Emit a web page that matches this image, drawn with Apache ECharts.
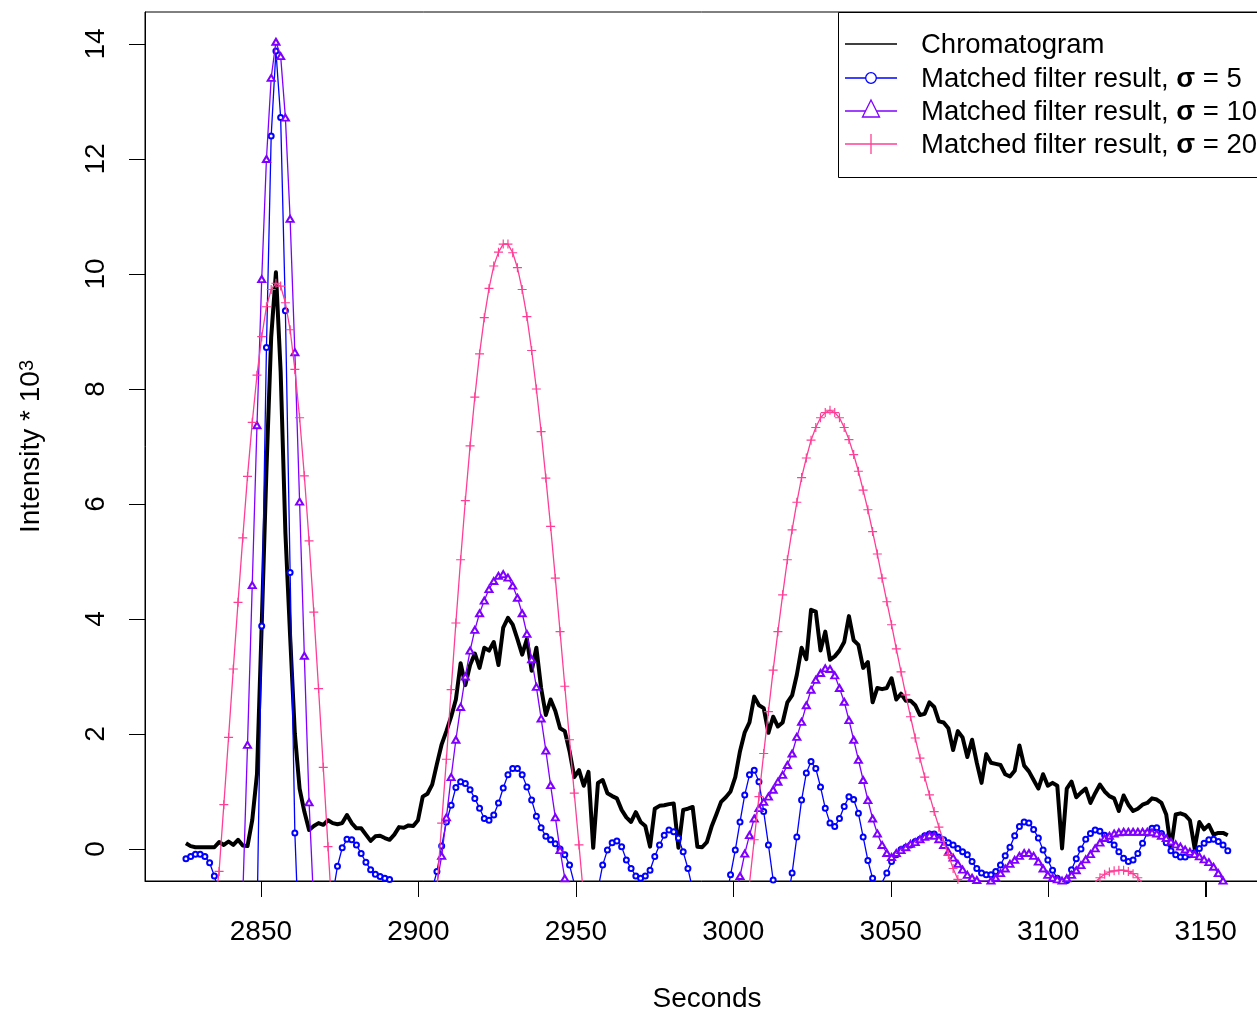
<!DOCTYPE html>
<html>
<head>
<meta charset="utf-8">
<title>Chromatogram and matched filter results</title>
<script src="https://cdn.jsdelivr.net/npm/echarts@6/dist/echarts.min.js"></script>
<style>
  html, body { margin: 0; padding: 0; background: #ffffff; }
  #chart { width: 1257px; height: 1009px; }
</style>
</head>
<body>
<div id="chart"></div>
<script>
// Scan times: first scan (s) and the spacing between scans (s)
const scanStart = 2826.2;
const scanInterval = 1.5037;

// Raw chromatogram intensity (* 10^3), one value per scan
const chromatogram = [
  0.10, 0.05, 0.03, 0.03, 0.03, 0.03, 0.03, 0.12, 0.07, 0.13,
  0.07, 0.16, 0.06, 0.05, 0.5, 1.3, 3.9, 6.6, 8.9, 10.03,
  8.3, 5.5, 3.7, 2.0, 1.05, 0.65, 0.33, 0.4, 0.45, 0.42,
  0.5, 0.45, 0.43, 0.45, 0.59, 0.45, 0.36, 0.36, 0.25, 0.14,
  0.22, 0.23, 0.19, 0.16, 0.25, 0.38, 0.37, 0.41, 0.4, 0.5,
  0.91, 0.96, 1.12, 1.48, 1.82, 2.05, 2.3, 2.6, 3.23, 2.85,
  3.2, 3.4, 3.15, 3.5, 3.45, 3.6, 3.2, 3.85, 4.02, 3.9,
  3.65, 3.38, 3.65, 3.1, 3.5, 2.8, 2.33, 2.6, 2.4, 2.1,
  2.05, 1.7, 1.25, 1.37, 1.1, 1.34, 0.02, 1.15, 1.2, 0.97,
  0.92, 0.88, 0.68, 0.55, 0.47, 0.64, 0.47, 0.4, 0.04, 0.7,
  0.75, 0.76, 0.78, 0.79, 0.02, 0.68, 0.7, 0.73, 0.04, 0.03,
  0.12, 0.39, 0.6, 0.82, 0.9, 1.0, 1.25, 1.7, 2.03, 2.2,
  2.65, 2.5, 2.45, 2.02, 2.3, 2.13, 2.2, 2.55, 2.67, 3.03,
  3.5, 3.3, 4.16, 4.13, 3.45, 3.78, 3.29, 3.35, 3.45, 3.6,
  4.05, 3.63, 3.55, 3.15, 3.25, 2.55, 2.8, 2.78, 2.8, 2.97,
  2.6, 2.7, 2.58, 2.58, 2.5, 2.33, 2.35, 2.55, 2.47, 2.22,
  2.2, 2.1, 1.72, 2.05, 1.94, 1.6, 1.9, 1.5, 1.15, 1.65,
  1.5, 1.48, 1.46, 1.3, 1.26, 1.36, 1.8, 1.45, 1.35, 1.2,
  1.05, 1.3, 1.1, 1.15, 1.1, 0.01, 1.05, 1.17, 0.9, 0.98,
  1.05, 0.8, 0.97, 1.12, 1.0, 0.92, 0.88, 0.66, 0.93, 0.77,
  0.66, 0.7, 0.77, 0.8, 0.88, 0.86, 0.8, 0.6, 0.01, 0.6,
  0.62, 0.59, 0.5, 0.01, 0.47, 0.34, 0.42, 0.25, 0.28, 0.28, 0.24
];

// Matched filter output, Gaussian kernel sigma = 5
const filterSigma5 = [
  -0.17, -0.13, -0.09, -0.09, -0.13, -0.24, -0.47, -0.75, -1.5, -2.5,
  -3.3, -3.8, -3.8, -3.3, -2.4, -1.3, 3.88, 8.72, 12.4, 13.88,
  12.72, 9.36, 4.81, 0.28, -1.9, -3.2, -3.6, -3.4, -2.7, -1.9,
  -1.3, -0.8, -0.3, 0.02, 0.17, 0.16, 0.07, -0.08, -0.23, -0.36,
  -0.44, -0.48, -0.51, -0.53, -0.62, -0.9, -1.2, -1.4, -1.5, -1.5,
  -1.3, -1.0, -0.7, -0.39, 0.05, 0.47, 0.76, 1.07, 1.17, 1.14,
  1.03, 0.88, 0.71, 0.53, 0.5, 0.59, 0.8, 1.06, 1.29, 1.4,
  1.4, 1.29, 1.08, 0.85, 0.57, 0.37, 0.22, 0.16, 0.09, 0.0,
  -0.1, -0.28, -0.6, -0.9, -1.1, -1.1, -0.95, -0.7, -0.28, -0.02,
  0.11, 0.14, 0.04, -0.19, -0.34, -0.47, -0.51, -0.47, -0.37, -0.13,
  0.07, 0.24, 0.33, 0.3, 0.19, -0.05, -0.34, -0.7, -1.0, -1.2,
  -1.3, -1.3, -1.25, -1.1, -0.9, -0.45, -0.02, 0.47, 0.94, 1.29,
  1.37, 1.17, 0.65, 0.07, -0.54, -1.0, -1.1, -0.9, -0.42, 0.21,
  0.85, 1.32, 1.52, 1.4, 1.08, 0.71, 0.45, 0.39, 0.53, 0.74,
  0.91, 0.86, 0.62, 0.21, -0.2, -0.51, -0.62, -0.58, -0.42, -0.22,
  -0.1, -0.01, 0.03, 0.07, 0.13, 0.17, 0.23, 0.26, 0.26, 0.21,
  0.16, 0.11, 0.07, 0.01, -0.05, -0.1, -0.22, -0.34, -0.42, -0.45,
  -0.45, -0.39, -0.28, -0.12, 0.03, 0.23, 0.39, 0.47, 0.45, 0.34,
  0.19, -0.02, -0.19, -0.37, -0.51, -0.6, -0.55, -0.36, -0.17, 0.0,
  0.17, 0.27, 0.33, 0.31, 0.24, 0.16, 0.07, -0.05, -0.16, -0.22,
  -0.19, -0.08, 0.1, 0.28, 0.36, 0.37, 0.27, 0.11, -0.03, -0.1,
  -0.14, -0.14, -0.1, -0.06, 0.01, 0.1, 0.16, 0.17, 0.13, 0.07, -0.03
];

// Matched filter output, sigma = 10
const filterSigma10 = [
  -1.6, -1.8, -2.0, -2.2, -2.4, -2.6, -2.8, -2.9, -2.9, -2.7,
  -2.3, -1.7, -0.82, 1.81, 4.59, 7.37, 9.91, 12.0, 13.41, 14.04,
  13.79, 12.72, 10.96, 8.64, 6.04, 3.36, 0.81, -1.0, -2.0, -2.6,
  -2.9, -3.0, -2.9, -2.7, -2.4, -2.1, -1.8, -1.6, -1.4, -1.3,
  -1.3, -1.4, -1.5, -1.7, -1.9, -2.0, -2.1, -2.1, -2.0, -1.8,
  -1.6, -1.3, -1.0, -0.6, -0.12, 0.55, 1.25, 1.9, 2.47, 3.0,
  3.45, 3.81, 4.1, 4.32, 4.52, 4.66, 4.75, 4.78, 4.72, 4.58,
  4.37, 4.1, 3.74, 3.3, 2.82, 2.27, 1.71, 1.11, 0.55, -0.02,
  -0.51, -1.0, -1.5, -1.9, -2.2, -2.4, -2.5, -2.5, -2.4, -2.3,
  -2.1, -1.9, -1.7, -1.5, -1.4, -1.3, -1.2, -1.2, -1.2, -1.3,
  -1.4, -1.5, -1.6, -1.7, -1.8, -1.8, -1.8, -1.8, -1.7, -1.6,
  -1.5, -1.4, -1.3, -1.2, -1.1, -1.0, -0.85, -0.47, -0.08, 0.24,
  0.53, 0.71, 0.82, 0.91, 1.03, 1.17, 1.29, 1.46, 1.66, 1.95,
  2.21, 2.5, 2.77, 2.94, 3.06, 3.14, 3.13, 3.02, 2.8, 2.56,
  2.24, 1.9, 1.55, 1.2, 0.85, 0.53, 0.27, 0.07, -0.07, -0.14,
  -0.07, -0.02, 0.03, 0.09, 0.12, 0.17, 0.21, 0.24, 0.23, 0.17,
  0.07, -0.05, -0.15, -0.26, -0.36, -0.45, -0.5, -0.54, -0.56, -0.56,
  -0.55, -0.5, -0.42, -0.34, -0.26, -0.19, -0.12, -0.07, -0.07, -0.12,
  -0.22, -0.34, -0.45, -0.5, -0.53, -0.55, -0.51, -0.45, -0.37, -0.28,
  -0.18, -0.09, 0.01, 0.11, 0.19, 0.23, 0.27, 0.29, 0.3, 0.3,
  0.3, 0.3, 0.3, 0.3, 0.29, 0.27, 0.23, 0.19, 0.13, 0.08,
  0.04, -0.01, -0.05, -0.09, -0.13, -0.18, -0.23, -0.31, -0.42, -0.55, -0.7
];

// Matched filter output, sigma = 20
const filterSigma20 = [
  -2.5, -2.6, -2.5, -2.3, -2.0, -1.6, -1.1, -0.39, 0.77, 1.94,
  3.13, 4.29, 5.41, 6.48, 7.42, 8.24, 8.91, 9.43, 9.73, 9.84,
  9.79, 9.5, 9.03, 8.34, 7.5, 6.49, 5.36, 4.12, 2.79, 1.42,
  0.04, -1.3, -2.5, -3.5, -4.3, -4.9, -5.3, -5.5, -5.5, -5.3,
  -5.0, -4.6, -4.2, -3.8, -3.5, -3.2, -2.9, -2.6, -2.3, -2.0,
  -1.7, -1.4, -1.1, -0.7, 0.45, 1.56, 2.77, 3.93, 5.03, 6.06,
  7.01, 7.86, 8.61, 9.24, 9.75, 10.14, 10.38, 10.52, 10.52, 10.37,
  10.11, 9.73, 9.26, 8.67, 8.0, 7.26, 6.45, 5.61, 4.71, 3.78,
  2.83, 1.9, 0.97, 0.07, -0.85, -1.8, -2.6, -3.3, -3.9, -4.4,
  -4.7, -4.9, -5.0, -5.0, -4.9, -4.7, -4.5, -4.3, -4.1, -3.9,
  -3.7, -3.5, -3.3, -3.1, -2.9, -2.8, -2.7, -2.6, -2.5, -2.4,
  -2.3, -2.2, -2.1, -2.0, -1.9, -1.7, -1.5, -1.3, -1.0, -0.6,
  0.16, 0.91, 1.66, 2.39, 3.11, 3.78, 4.42, 5.03, 5.55, 6.03,
  6.46, 6.8, 7.11, 7.33, 7.5, 7.59, 7.63, 7.59, 7.5, 7.33,
  7.12, 6.86, 6.57, 6.24, 5.9, 5.52, 5.13, 4.71, 4.3, 3.9,
  3.48, 3.08, 2.68, 2.3, 1.93, 1.58, 1.25, 0.94, 0.65, 0.38,
  0.13, -0.1, -0.34, -0.53, -0.7, -0.9, -1.1, -1.3, -1.4, -1.5,
  -1.6, -1.6, -1.6, -1.5, -1.4, -1.3, -1.2, -1.1, -1.0, -0.95,
  -0.9, -0.85, -0.82, -0.8, -0.78, -0.76, -0.75, -0.74, -0.72, -0.7,
  -0.67, -0.63, -0.58, -0.5, -0.44, -0.4, -0.38, -0.37, -0.37, -0.39,
  -0.43, -0.5, -0.6, -0.7, -0.8, -0.9, -1.0, -1.1, -1.15, -1.2,
  -1.25, -1.3, -1.3, -1.3, -1.3, -1.3, -1.3, -1.3, -1.3, -1.3, -1.3
];

// Axis tick labels
const xTickLabels = [2850, 2900, 2950, 3000, 3050, 3100, 3150];
const yTickLabels = [0, 2, 4, 6, 8, 10, 12, 14];

// Series names (also used in the legend)
const seriesNames = [
  'Chromatogram',
  'Matched filter result, σ = 5',
  'Matched filter result, σ = 10',
  'Matched filter result, σ = 20'
];

const FONT = '"Liberation Sans", Arial, Helvetica, sans-serif';
const BLUE = '#0000ff';
const VIOLET = '#8000ff';
const PINK = '#ff3e96';
const PLUS = 'path://M0,4.35H10V5.65H0Z M4.35,0H5.65V10H4.35Z';

// Plot region and axis ranges
const GRID = { left: 145, top: 12, width: 1124, height: 869 };
const X_MIN = 2813.2, X_MAX = 3170.1;
const Y_MIN = -0.557, Y_MAX = 14.557;
const TICK_LEN = 16;

const toPairs = vals => vals.map((v, i) => [scanStart + i * scanInterval, v]);

// Linear position of an axis value inside the plot region
const xPos = v => GRID.left + (v - X_MIN) / (X_MAX - X_MIN) * GRID.width;
const yPos = v => GRID.top + (Y_MAX - v) / (Y_MAX - Y_MIN) * GRID.height;

// Legend drawn as a small boxed key in the top-right corner
const legendRows = [44, 78, 111, 144];
const legendLineX0 = 845, legendLineX1 = 897, legendSymX = 871, legendTextX = 921;
const LEGEND_FONT_SIZE = 27.5;
const richSigma = {
  s: { fontFamily: FONT, fontSize: LEGEND_FONT_SIZE, fontWeight: 'bold', fill: '#000' }
};
const legendGraphics = [
  {
    type: 'rect',
    shape: { x: 838.5, y: 12.5, width: 460, height: 165 },
    style: { fill: '#fff', stroke: '#000', lineWidth: 1 }
  },
  { type: 'line', shape: { x1: legendLineX0, y1: legendRows[0], x2: legendLineX1, y2: legendRows[0] }, style: { stroke: '#000', lineWidth: 1.3 } },
  { type: 'line', shape: { x1: legendLineX0, y1: legendRows[1], x2: legendLineX1, y2: legendRows[1] }, style: { stroke: BLUE, lineWidth: 1.3 } },
  { type: 'circle', shape: { cx: legendSymX, cy: legendRows[1], r: 5.3 }, style: { fill: '#fff', stroke: BLUE, lineWidth: 1.3 } },
  { type: 'line', shape: { x1: legendLineX0, y1: legendRows[2], x2: legendLineX1, y2: legendRows[2] }, style: { stroke: VIOLET, lineWidth: 1.3 } },
  { type: 'polygon', shape: { points: [[legendSymX, legendRows[2] - 11], [legendSymX + 8.5, legendRows[2] + 6], [legendSymX - 8.5, legendRows[2] + 6]] }, style: { fill: '#fff', stroke: VIOLET, lineWidth: 1.3 } },
  { type: 'line', shape: { x1: legendLineX0, y1: legendRows[3], x2: legendLineX1, y2: legendRows[3] }, style: { stroke: PINK, lineWidth: 1.3 } },
  { type: 'line', shape: { x1: legendSymX, y1: legendRows[3] - 10, x2: legendSymX, y2: legendRows[3] + 10 }, style: { stroke: PINK, lineWidth: 1.3 } }
];
seriesNames.forEach((name, k) => {
  legendGraphics.push({
    type: 'text',
    x: legendTextX,
    y: legendRows[k] + 1.5,
    style: {
      text: name.replace('σ', '{s|σ}'),
      fontFamily: FONT,
      fontSize: LEGEND_FONT_SIZE,
      fill: '#000',
      align: 'left',
      verticalAlign: 'middle',
      rich: richSigma
    }
  });
});

// Outward tick marks as thin filled bars beside the plot box
const tickGraphics = [];
xTickLabels.forEach(v => {
  tickGraphics.push({
    type: 'rect', z: 100,
    shape: { x: Math.round(xPos(v)), y: GRID.top + GRID.height, width: 1, height: TICK_LEN },
    style: { fill: '#000' }
  });
});
yTickLabels.forEach(v => {
  tickGraphics.push({
    type: 'rect', z: 100,
    shape: { x: GRID.left - TICK_LEN, y: Math.round(yPos(v)), width: TICK_LEN, height: 1 },
    style: { fill: '#000' }
  });
});

// The same ticks through the axes' own coordinate conversion
function renderXTick(params, api) {
  const p = api.coord([api.value(0), api.value(1)]);
  return {
    type: 'rect',
    shape: { x: Math.round(p[0]), y: Math.round(p[1]), width: 1, height: TICK_LEN },
    style: { fill: '#000' }
  };
}
function renderYTick(params, api) {
  const p = api.coord([api.value(0), api.value(1)]);
  return {
    type: 'rect',
    shape: { x: Math.round(p[0]) - TICK_LEN, y: Math.round(p[1]), width: TICK_LEN, height: 1 },
    style: { fill: '#000' }
  };
}

const chart = echarts.init(document.getElementById('chart'), null, { renderer: 'canvas' });

const axisLineStyle = { show: true, onZero: false, lineStyle: { color: '#000', width: 1 } };
const tickStyle = { show: true, inside: false, length: TICK_LEN, lineStyle: { color: '#000', width: 1 } };

chart.setOption({
  animation: false,
  backgroundColor: '#ffffff',
  textStyle: { fontFamily: FONT },
  grid: {
    left: GRID.left, top: GRID.top, width: GRID.width, height: GRID.height,
    show: true, borderColor: '#000', borderWidth: 1,
    backgroundColor: 'transparent',
    containLabel: false,
    outerBoundsMode: 'none'
  },
  xAxis: {
    type: 'value',
    position: 'bottom',
    min: X_MIN,
    max: X_MAX,
    name: 'Seconds',
    nameLocation: 'middle',
    nameGap: 104,
    nameTextStyle: { fontSize: 28, color: '#000', fontFamily: FONT },
    axisLine: axisLineStyle,
    splitLine: { show: false },
    axisTick: Object.assign({ customValues: xTickLabels }, tickStyle),
    axisLabel: { show: true, margin: 37, fontSize: 28, color: '#000', fontFamily: FONT, customValues: xTickLabels, formatter: v => String(v) }
  },
  yAxis: {
    type: 'value',
    position: 'left',
    min: Y_MIN,
    max: Y_MAX,
    name: '{n|Intensity * 10}{sup|3}',
    nameLocation: 'middle',
    nameRotate: 90,
    nameGap: 100,
    nameTextStyle: {
      color: '#000',
      rich: {
        n: { fontSize: 28, fontFamily: FONT, color: '#000', lineHeight: 28, verticalAlign: 'bottom' },
        sup: { fontSize: 20, fontFamily: FONT, color: '#000', lineHeight: 20, verticalAlign: 'top', padding: [0, 0, 12, 0] }
      }
    },
    axisLine: axisLineStyle,
    splitLine: { show: false },
    axisTick: Object.assign({ customValues: yTickLabels }, tickStyle),
    axisLabel: { show: true, rotate: 90, margin: 35, fontSize: 28, color: '#000', fontFamily: FONT, customValues: yTickLabels, formatter: v => String(v) }
  },
  tooltip: { show: false },
  series: [
    {
      name: seriesNames[0],
      type: 'line',
      data: toPairs(chromatogram),
      showSymbol: false,
      symbol: 'none',
      clip: true,
      lineStyle: { color: '#000', width: 4, join: 'round' },
      z: 2
    },
    {
      name: seriesNames[1],
      type: 'line',
      data: toPairs(filterSigma5),
      symbol: 'emptyCircle',
      symbolSize: 5,
      showAllSymbol: true,
      clip: true,
      itemStyle: { color: BLUE, borderColor: BLUE, borderWidth: 1 },
      lineStyle: { color: BLUE, width: 1.3 },
      z: 3
    },
    {
      name: seriesNames[2],
      type: 'line',
      data: toPairs(filterSigma10),
      symbol: 'emptyTriangle',
      symbolSize: [7, 6],
      showAllSymbol: true,
      clip: true,
      itemStyle: { color: VIOLET, borderColor: VIOLET, borderWidth: 1 },
      lineStyle: { color: VIOLET, width: 1.3 },
      z: 4
    },
    {
      name: seriesNames[3],
      type: 'line',
      data: toPairs(filterSigma20),
      symbol: PLUS,
      symbolSize: 9,
      showAllSymbol: true,
      clip: true,
      itemStyle: { color: PINK, borderWidth: 0 },
      lineStyle: { color: PINK, width: 1.3 },
      z: 5
    },
    {
      name: 'x ticks',
      type: 'custom',
      coordinateSystem: 'cartesian2d',
      clip: false,
      silent: true,
      z: 10,
      data: xTickLabels.map(v => [v, Y_MIN]),
      renderItem: renderXTick
    },
    {
      name: 'y ticks',
      type: 'custom',
      coordinateSystem: 'cartesian2d',
      clip: false,
      silent: true,
      z: 10,
      data: yTickLabels.map(v => [X_MIN, v]),
      renderItem: renderYTick
    }
  ],
  graphic: { elements: legendGraphics.concat(tickGraphics) }
});
</script>
</body>
</html>
